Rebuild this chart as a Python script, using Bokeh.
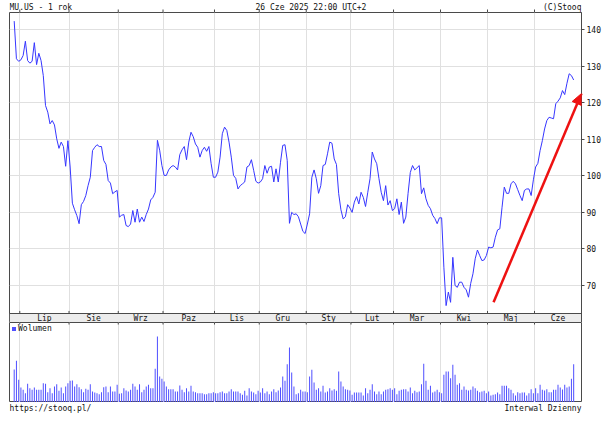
import numpy as np
from bokeh.plotting import figure
from bokeh.layouts import column
from bokeh.models import FixedTicker, Arrow, NormalHead, Legend, LegendItem, Range1d
from bokeh.core.properties import value
from bokeh.embed import file_html
from bokeh.resources import INLINE

# ---------------- data ----------------
months = ["Lip", "Sie", "Wrz", "Paz", "Lis", "Gru", "Sty", "Lut", "Mar", "Kwi", "Maj", "Cze"]
# trading days per month: end of Jun 2024, Jul 2024 ... Jun 2025
month_days = [3, 22, 22, 20, 23, 20, 21, 20, 19, 21, 21, 21, 18]

price = [
    142.3, 132.0, 131.3, 131.7, 132.9, 136.8, 131.5, 130.8, 131.3, 136.4,
    130.4, 133.5, 131.5, 127.4, 119.2, 117.4, 114.2, 115.1, 113.9, 110.1,
    107.5, 109.2, 108.0, 102.6, 109.6, 102.4, 92.5, 90.7, 89.1, 86.9,
    92.1, 93.0, 94.6, 97.3, 99.6, 106.9, 107.8, 108.5, 108.0, 108.0,
    104.2, 103.1, 98.7, 98.0, 95.1, 95.6, 96.0, 88.7, 89.2, 89.4,
    86.4, 86.1, 86.8, 90.5, 87.3, 90.9, 87.3, 88.7, 87.5, 89.4,
    90.9, 93.4, 94.1,
    95.5, 109.7, 107.0, 102.8, 100.1, 100.1, 101.6, 102.4, 102.8, 102.4,
    101.6, 105.8, 107.1, 108.0, 104.4, 109.2, 111.9, 110.7, 108.7, 107.8,
    105.1, 106.9, 107.8, 106.7, 108.0, 103.3, 99.6, 99.6, 101.0, 105.1,
    111.5, 113.3, 112.4, 109.2, 105.1, 100.1, 99.3, 96.4, 97.3, 97.8,
    98.3, 102.4, 102.8, 104.4, 101.5, 98.5, 98.0, 98.3, 99.2, 102.8,
    100.7, 102.4, 102.6, 98.3, 101.9, 98.3, 103.7, 108.3, 108.5, 104.2,
    87.0, 90.0, 89.4,
    89.6, 88.8, 86.8, 84.8, 84.2, 86.8, 89.6, 99.6, 101.6, 99.2,
    95.2, 97.3, 102.8, 103.1, 106.0, 109.2, 108.9, 104.6, 103.1, 95.1,
    90.7, 88.2, 88.8, 92.1, 91.2, 90.0, 92.8, 94.3, 92.3, 95.5,
    94.1, 91.6, 95.5, 99.2, 106.5, 104.6, 103.3, 99.2, 95.5, 93.2,
    97.3, 92.0, 93.2, 90.5, 91.0, 93.7, 89.4, 92.8, 87.0, 88.7,
    95.2, 100.9, 102.8, 101.6, 102.2, 102.8, 95.1, 96.7, 93.7, 91.9,
    91.0, 89.2, 88.3,
    86.9, 88.5, 88.5, 75.0, 64.5, 68.2, 65.4, 77.7, 70.0, 69.5,
    70.9, 70.9, 69.5, 68.8, 66.8, 70.6, 73.2, 77.3, 79.7, 78.2,
    76.8, 77.0, 78.2, 80.5, 80.3, 80.5, 83.2, 85.2, 85.5, 91.4,
    96.9, 95.2, 95.2, 97.8, 98.5, 97.8, 96.2, 94.6, 93.2, 96.0,
    96.4, 96.4, 94.6, 98.9, 102.4, 103.4, 106.9, 109.6, 112.8, 115.1,
    116.0, 115.8, 115.6, 119.7, 120.4, 121.3, 123.3, 122.2, 125.3, 127.9,
    127.4, 126.2,
]

volume = [
    33, 41.7, 22.7, 15, 12.7, 9.3, 18.7, 14.3, 12.7, 15,
    12.7, 12.7, 12.7, 19.3, 18.7, 10.3, 14.3, 9.3, 16, 18.3,
    11.7, 15, 9.3, 16, 19.3, 21.7, 22, 16, 18.3, 15.3,
    13.3, 10.3, 13.7, 12.7, 18.3, 11, 10, 9.3, 8.3, 10.3,
    15.3, 16, 10.3, 16, 11, 11, 17.7, 8.7, 9.3, 14.3,
    12, 11, 12.7, 18.7, 16, 12.7, 18.3, 10.3, 12.7, 16,
    17.7, 14.3, 14.3, 33.7, 66, 26, 23.7, 21, 16, 13.3,
    13.3, 13.3, 11, 11, 17, 12.7, 10.3, 14.3, 11, 16.7,
    11, 10.3, 9.3, 9.3, 9.3, 8.3, 8.3, 9.3, 9.3, 10.3,
    9.3, 9.3, 10.3, 11, 9.3, 9.3, 11, 13.3, 11, 11,
    11, 9.3, 7.7, 11.7, 7, 14.3, 11, 10, 8.3, 11.7,
    10, 14.3, 9.3, 11, 8.3, 11, 13.3, 10.3, 12, 15,
    26, 21.7, 38.3, 55, 30, 16, 8.3, 9.3,
    12.7, 11, 11, 10.3, 26, 32.7, 20, 12.7, 14.3, 11,
    16.7, 10, 11, 14.3, 12, 13.3, 11.7, 31, 21, 16,
    13.3, 12.7, 12, 7.7, 10, 10, 10, 10, 7, 14.3,
    9.3, 12.7, 18.3, 11, 8.3, 11, 8.3, 11, 12.7, 13.3,
    14.3, 12.7, 14.3, 8.3, 11.7, 12.7, 13.3, 13.3, 11, 15,
    9.3, 11.7, 10.3, 11, 18.3, 38.7, 21.7, 12.7, 16.7, 10,
    11, 12.7, 10.3, 9.3, 27.7, 31, 31, 24.3, 37.7, 27.7,
    17.7, 19.3, 12.7, 16, 12.7, 12, 12.7, 16, 14.3, 11.7,
    10.3, 11, 11.7, 9.3, 11, 7, 7.7, 8.3, 10, 8.3,
    16.7, 16.7, 16.7, 14.3, 12.7, 9.3, 7, 10.3, 9.3, 10,
    10, 7, 9.3, 13.3, 9.3, 14.3, 9.3, 17.7, 12.7, 12,
    13.3, 10.3, 10.3, 12.7, 12.7, 17.7, 15, 13, 17.7, 15,
    16, 23.7, 38.3,
]

price_ticks = [70, 80, 90, 100, 110, 120, 130, 140]
trend_x = [214.2, 253.5]
trend_y = [65.4, 122.5]

header_texts = ["MU.US - 1 rok", "26 Cze 2025 22:00 UTC+2", "(C)Stooq"]
footer_texts = ["https://stooq.pl/", "Interwal Dzienny"]

# ---------------- derived ----------------
idx = list(range(len(price)))
cum = np.cumsum(month_days)
bounds = [float(c) - 0.5 for c in cum[:-1]]

XS, XE = -2.1, 253.5
Y0, YFLOOR, Y1 = 59.88, 62.34, 144.65
edges = bounds + [XE]
centers = [(edges[k] + edges[k + 1]) / 2 for k in range(len(months))]

MONO = "DejaVu Sans Mono"
FRAME = "#4a4a4a"
GRID = "#e0e0e0"
LINE = "#3636ff"
TXT = "#111111"
W = 603
BL, BR = 9, 21
xr = Range1d(XS, XE)


def panel(height, y_range, y_axis=None):
    f = figure(width=W, height=height, x_range=xr, y_range=y_range,
               output_backend="svg", toolbar_location=None, title=None,
               x_axis_location=None, y_axis_location=y_axis,
               min_border_left=BL, min_border_right=BR, min_border_top=0, min_border_bottom=0)
    f.border_fill_color = "white"
    f.background_fill_color = "white"
    return f


# ---------------- header strip ----------------
h = panel(12, (0, 12))
h.outline_line_color = None
h.xgrid.visible = False
h.ygrid.visible = False
h.text(x=[XS, 132.6, XE], y=[5.5] * 3, text=header_texts,
       text_align=["left", "center", "right"], text_baseline="middle",
       text_font=value(MONO), text_font_size="8px", text_color=TXT)
h.segment(x0=bounds, y0=[0] * len(bounds), x1=bounds, y1=[3] * len(bounds),
          line_color=FRAME, line_width=1)

# ---------------- price panel ----------------
p = panel(310, (Y0, Y1), "right")
p.outline_line_color = FRAME
p.xgrid.ticker = FixedTicker(ticks=bounds)
p.ygrid.ticker = FixedTicker(ticks=price_ticks)
for g in (p.xgrid, p.ygrid):
    g.grid_line_color = GRID
    g.grid_line_width = 1

ax = p.yaxis[0]
ax.ticker = FixedTicker(ticks=price_ticks)
ax.major_tick_out = 3
ax.major_tick_in = 0
ax.minor_tick_line_color = None
ax.axis_line_color = FRAME
ax.major_tick_line_color = FRAME
ax.major_label_standoff = 2
ax.major_label_text_font = MONO
ax.major_label_text_font_size = "8px"
ax.major_label_text_color = TXT

p.line(idx, price, line_color=LINE, line_width=1)

# month band
p.quad(left=[XS], right=[XE], bottom=[Y0], top=[YFLOOR],
       fill_color="#ececec", line_color=FRAME, line_width=1)
p.text(x=centers, y=[(Y0 + YFLOOR) / 2] * len(months), text=months,
       text_align="center", text_baseline="middle",
       text_font=value(MONO), text_font_size="8px", text_color=TXT)
p.segment(x0=bounds, y0=[YFLOOR] * len(bounds), x1=bounds, y1=[YFLOOR + 0.7] * len(bounds),
          line_color=FRAME, line_width=1)

p.add_layout(Arrow(end=NormalHead(size=11, fill_color="#ee1111", line_color="#ee1111"),
                   x_start=trend_x[0], y_start=trend_y[0], x_end=trend_x[1], y_end=trend_y[1],
                   line_color="#ee1111", line_width=2.5))

# ---------------- volume panel ----------------
v = panel(80, (0, 80))
v.outline_line_color = FRAME
v.xgrid.ticker = FixedTicker(ticks=bounds)
v.xgrid.grid_line_color = GRID
v.ygrid.visible = False
vr = v.vbar(x=idx, top=volume, width=0.45, fill_color="#5050ff", line_color=None)
v.segment(x0=bounds, y0=[78] * len(bounds), x1=bounds, y1=[80] * len(bounds),
          line_color=FRAME, line_width=1)

leg = Legend(items=[LegendItem(label="Wolumen", renderers=[vr])], location="top_left",
             border_line_color=None, background_fill_alpha=0, margin=2, padding=1,
             glyph_width=5, glyph_height=5, label_height=8, label_standoff=2,
             label_text_font=MONO, label_text_font_size="8px", label_text_color=TXT)
v.add_layout(leg)

# ---------------- footer strip ----------------
ft = panel(19, (0, 19))
ft.outline_line_color = None
ft.xgrid.visible = False
ft.ygrid.visible = False
ft.text(x=[XS, XE], y=[13, 13], text=footer_texts, text_align=["left", "right"],
        text_baseline="middle", text_font=value(MONO), text_font_size="8px", text_color=TXT)

layout = column(h, p, v, ft, spacing=0)
open("out.html", "w").write(file_html(layout, INLINE))
